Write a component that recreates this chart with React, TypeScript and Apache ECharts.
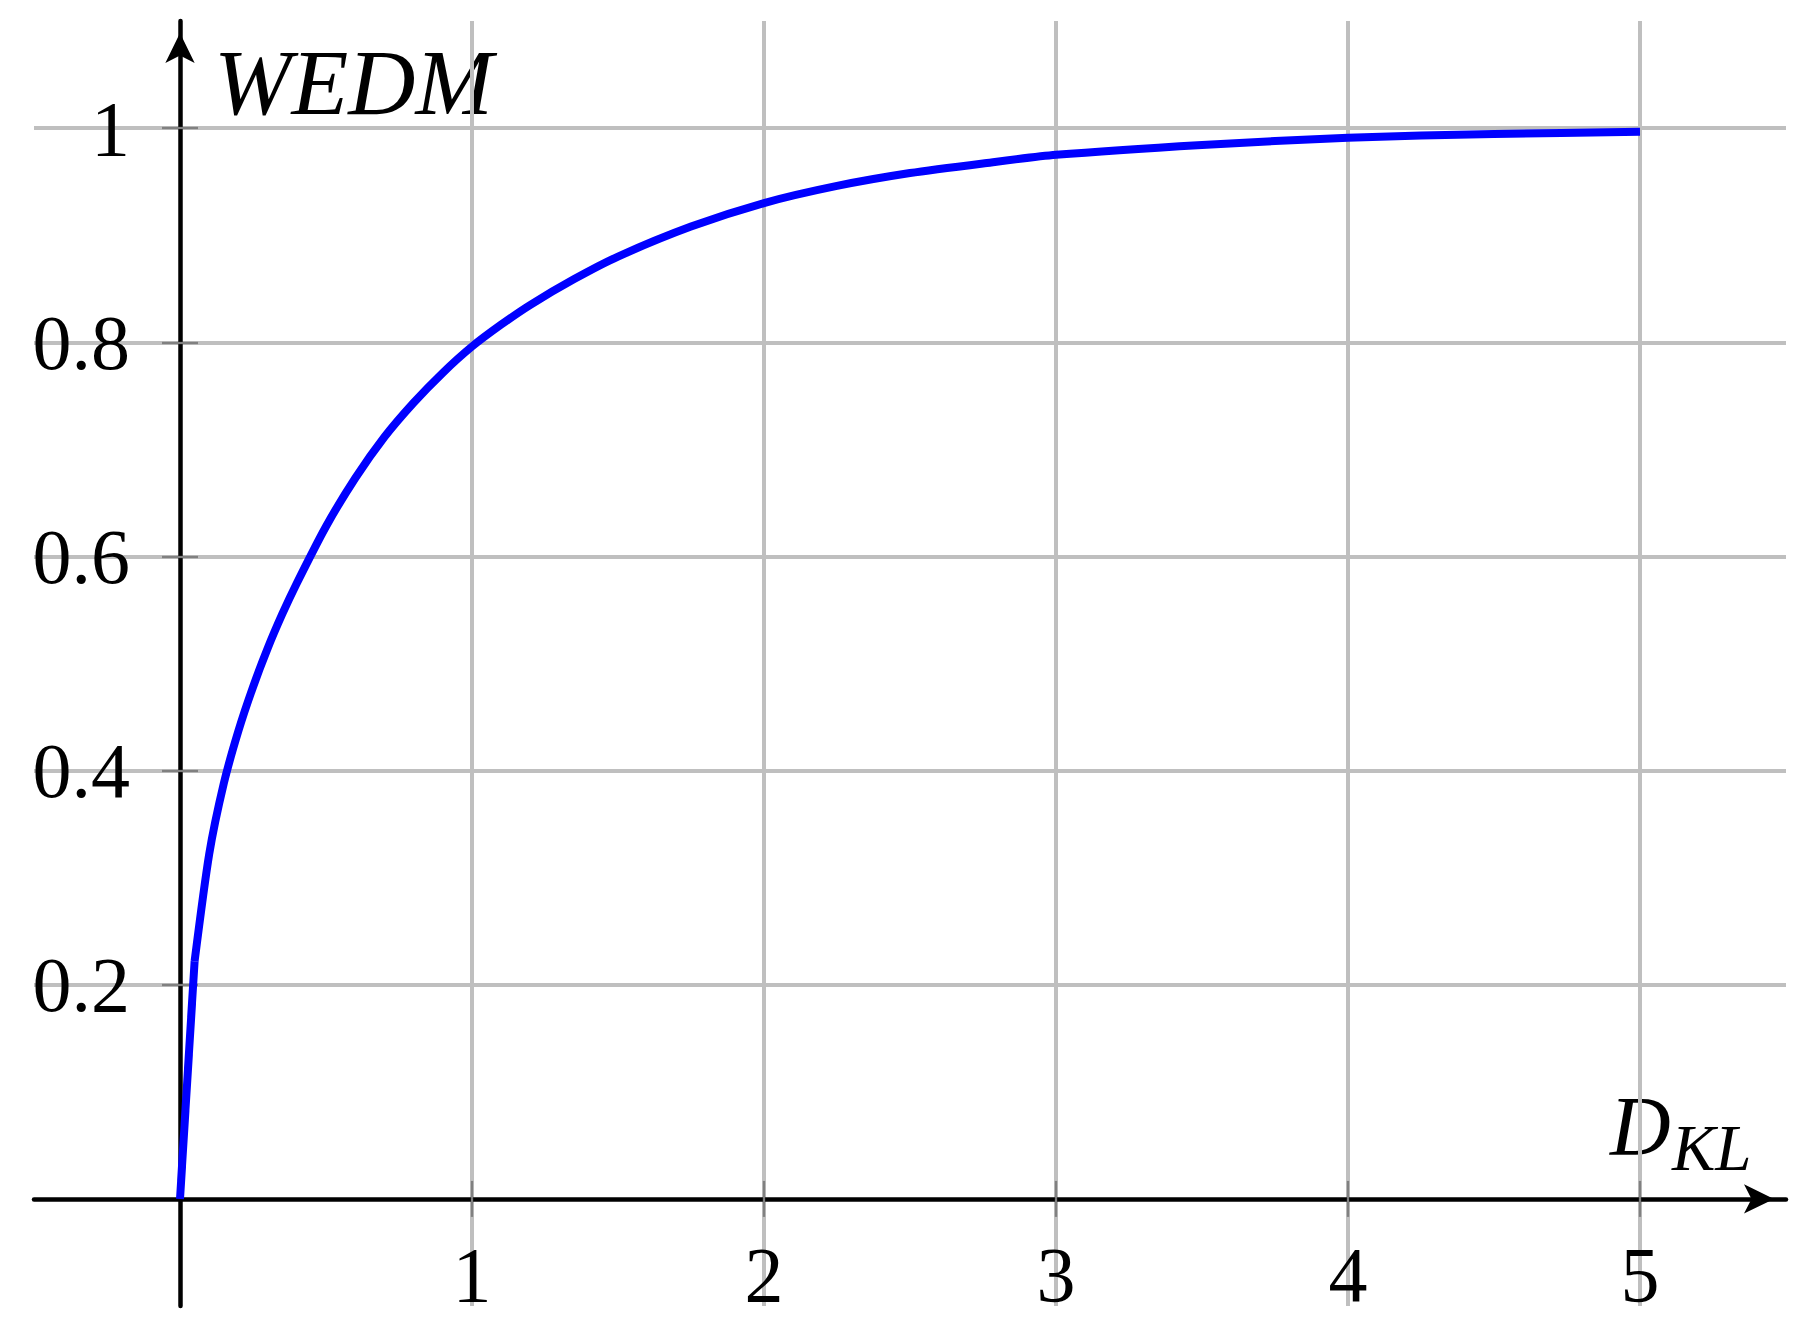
import React, { useEffect, useRef } from "react";
import * as echarts from "echarts";

const dklValues = [0, 0.05, 0.1, 0.15, 0.2, 0.25, 0.3, 0.35, 0.4, 0.5, 0.6, 0.7, 0.8, 0.9, 1.0, 1.1, 1.2, 1.35, 1.5, 1.75, 2.0, 2.25, 2.5, 2.75, 3.0, 3.5, 4.0, 4.5, 5.0];
const wedmValues = [0, 0.222, 0.322, 0.388, 0.437, 0.478, 0.514, 0.546, 0.575, 0.628, 0.673, 0.7115, 0.7435, 0.7715, 0.796, 0.8165, 0.835, 0.859, 0.88, 0.908, 0.93, 0.946, 0.958, 0.967, 0.975, 0.9843, 0.991, 0.9945, 0.9965];

const xTicks = [1, 2, 3, 4, 5];
const yTicks = [0.2, 0.4, 0.6, 0.8, 1];
const xRange = [-0.5, 5.5];
const yRange = [-0.1, 1.1];
const yTitle = "WEDM";
const xTitleMain = "D";
const xTitleSub = "KL";

const FONT = "Liberation Serif";
const GRID_COLOR = "#bfbfbf";
const TICK_COLOR = "#808080";

const GRID_LEFT = 34;
const GRID_RIGHT = 20;
const GRID_TOP = 21;
const GRID_BOTTOM = 35;
const W = 1806;
const H = 1341;

export default function App() {
  const ref = useRef<HTMLDivElement>(null);

  useEffect(() => {
    if (!ref.current) return;
    const chart = echarts.init(ref.current, undefined, { renderer: "svg" });

    const plotW = W - GRID_LEFT - GRID_RIGHT;
    const plotH = H - GRID_TOP - GRID_BOTTOM;
    // pixel distance from grid's left edge to x = 0, from grid's bottom edge to y = 0
    const yAxisShift = ((0 - xRange[0]) / (xRange[1] - xRange[0])) * plotW;
    const xAxisShift = ((0 - yRange[0]) / (yRange[1] - yRange[0])) * plotH;

    const tickStyle = { color: TICK_COLOR, width: 2.3 };
    const labelStyle = { color: "#000", fontFamily: FONT, fontSize: 78 };
    const gridLine = { show: true, lineStyle: { color: GRID_COLOR, width: 4 } };
    const arrowLine = {
      show: true,
      onZero: true,
      onZeroAxisIndex: 0,
      symbol: ["none", "arrow"],
      symbolSize: [22, 30],
      symbolOffset: [0, -12],
      lineStyle: { color: "#000", width: 4.5 },
    };

    const points = dklValues.map((x, i) => [x, wedmValues[i]]);

    const option: any = {
      animation: false,
      backgroundColor: "#ffffff",
      grid: {
        left: GRID_LEFT,
        right: GRID_RIGHT,
        top: GRID_TOP,
        bottom: GRID_BOTTOM,
        containLabel: false,
        outerBoundsMode: "none",
      },
      xAxis: [
        {
          type: "value",
          min: xRange[0],
          max: xRange[1],
          splitNumber: 6,
          position: "bottom",
          axisLine: arrowLine,
          axisTick: { show: true, inside: false, length: 18, customValues: xTicks, lineStyle: tickStyle },
          axisLabel: { show: false },
          splitLine: gridLine,
        },
        {
          type: "value",
          min: xRange[0],
          max: xRange[1],
          splitNumber: 6,
          position: "bottom",
          offset: -xAxisShift,
          axisLine: { show: true, onZero: false, lineStyle: { opacity: 0 } },
          axisTick: { show: true, inside: true, length: 18, customValues: xTicks, lineStyle: tickStyle },
          axisLabel: {
            show: true,
            customValues: xTicks,
            margin: 37,
            ...labelStyle,
            formatter: (v: number) => String(v),
          },
          splitLine: { show: false },
        },
      ],
      yAxis: [
        {
          type: "value",
          min: yRange[0],
          max: yRange[1],
          splitNumber: 6,
          position: "left",
          axisLine: arrowLine,
          axisTick: { show: true, inside: false, length: 18, customValues: yTicks, lineStyle: tickStyle },
          axisLabel: { show: false },
          splitLine: gridLine,
        },
        {
          type: "value",
          min: yRange[0],
          max: yRange[1],
          splitNumber: 6,
          position: "left",
          offset: -yAxisShift,
          axisLine: { show: true, onZero: false, lineStyle: { opacity: 0 } },
          axisTick: { show: true, inside: true, length: 18, customValues: yTicks, lineStyle: tickStyle },
          axisLabel: {
            show: true,
            customValues: yTicks,
            margin: 50,
            ...labelStyle,
            formatter: (v: number) => String(Math.round(v * 10) / 10),
          },
          splitLine: { show: false },
        },
      ],
      series: [
        {
          type: "line",
          xAxisIndex: 0,
          yAxisIndex: 0,
          data: points.slice(0, 2),
          showSymbol: false,
          smooth: false,
          lineStyle: { color: "#0000ff", width: 8 },
          z: 5,
        },
        {
          type: "line",
          xAxisIndex: 0,
          yAxisIndex: 0,
          data: points.slice(1),
          showSymbol: false,
          smooth: 0.25,
          lineStyle: { color: "#0000ff", width: 8 },
          z: 5,
        },
      ],
      graphic: [
        {
          type: "text",
          x: 214,
          y: 82,
          style: {
            text: yTitle,
            fontFamily: FONT,
            fontStyle: "italic",
            fontSize: 93,
            fill: "#000",
            align: "left",
            verticalAlign: "middle",
          },
        },
        {
          type: "text",
          x: 1610,
          y: 1126,
          style: {
            text: xTitleMain,
            fontFamily: FONT,
            fontStyle: "italic",
            fontSize: 84,
            fill: "#000",
            align: "left",
            verticalAlign: "middle",
          },
        },
        {
          type: "text",
          x: 1672,
          y: 1148,
          style: {
            text: xTitleSub,
            fontFamily: FONT,
            fontStyle: "italic",
            fontSize: 65,
            fill: "#000",
            align: "left",
            verticalAlign: "middle",
          },
        },
      ],
    };

    chart.setOption(option);
    return () => chart.dispose();
  }, []);

  return (
    <div
      ref={ref}
      style={{ position: "fixed", left: 0, top: 0, width: W, height: H, background: "#fff" }}
    />
  );
}
